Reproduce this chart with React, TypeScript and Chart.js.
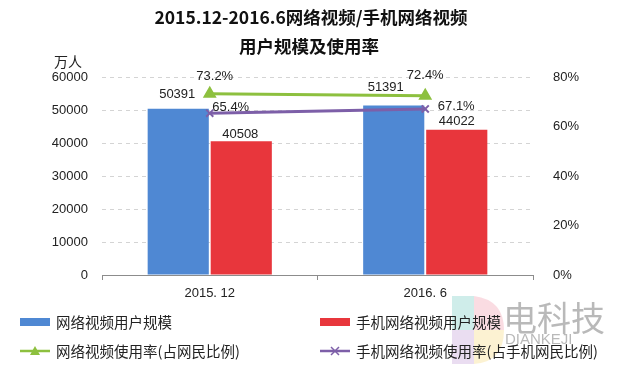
import React, { useEffect, useRef } from "react";
import { Chart, registerables } from "chart.js";

Chart.register(...registerables);

const titleLines = ["2015.12-2016.6网络视频/手机网络视频", "用户规模及使用率"];
const unitLabel = "万人";
const categories = ["2015. 12", "2016. 6"];
const videoUsers = [50391, 51391];
const mobileVideoUsers = [40508, 44022];
const videoRate = [73.2, 72.4];
const mobileVideoRate = [65.4, 67.1];
const seriesNames = [
  "网络视频用户规模",
  "手机网络视频用户规模",
  "网络视频使用率(占网民比例)",
  "手机网络视频使用率(占手机网民比例)",
];

const BLUE = "#4F88D3";
const RED = "#E8363C";
const GREEN = "#8DC03F";
const PURPLE = "#7D5FA8";

// label offsets (pixels) relative to each mark, per dataset
const labelOffsets = [
  [{ dx: -1, dy: -14 }, { dx: -8, dy: -18 }],
  [{ dx: -1, dy: -7 }, { dx: 0, dy: -8 }],
  [{ dx: 5, dy: -17 }, { dx: 0, dy: -20 }],
  [{ dx: 21, dy: -6 }, { dx: 31, dy: -3 }],
];

const overlayPlugin = {
  id: "overlay",
  afterDatasetsDraw(chart: any) {
    const ctx = chart.ctx;
    ctx.save();
    ctx.fillStyle = "#222";
    ctx.font = "13px 'Liberation Sans', Arial, sans-serif";
    ctx.textAlign = "center";
    ctx.textBaseline = "middle";
    chart.data.datasets.forEach((ds: any, di: number) => {
      const meta = chart.getDatasetMeta(di);
      meta.data.forEach((el: any, i: number) => {
        const v = ds.data[i];
        const txt = di >= 2 ? v.toFixed(1) + "%" : String(v);
        const o = labelOffsets[di][i];
        ctx.fillText(txt, el.x + o.dx, el.y + o.dy);
      });
    });
    ctx.restore();
  },
  afterDraw(chart: any) {
    const ctx = chart.ctx;
    ctx.save();
    // title
    ctx.fillStyle = "#111";
    ctx.textAlign = "center";
    ctx.textBaseline = "middle";
    ctx.font = "bold 17.5px 'Noto Sans CJK SC', 'Liberation Sans', sans-serif";
    ctx.fillText(titleLines[0], 311, 17);
    ctx.fillText(titleLines[1], 309, 46);
    // unit
    ctx.font = "14px 'Noto Sans CJK SC', sans-serif";
    ctx.fillStyle = "#222";
    ctx.fillText(unitLabel, 68, 62);

    // watermark logo
    ctx.globalAlpha = 0.3;
    const lx = 452, ly = 296;
    ctx.fillStyle = "#5fc2b8";
    ctx.fillRect(lx, ly, 22, 34);
    ctx.fillStyle = "#f08aa0";
    ctx.beginPath();
    ctx.moveTo(lx + 22, ly);
    ctx.quadraticCurveTo(lx + 52, ly + 4, lx + 52, ly + 34);
    ctx.lineTo(lx + 22, ly + 34);
    ctx.closePath();
    ctx.fill();
    ctx.fillStyle = "#b88fd0";
    ctx.fillRect(lx, ly + 34, 22, 34);
    ctx.fillStyle = "#f5d36b";
    ctx.beginPath();
    ctx.moveTo(lx + 22, ly + 34);
    ctx.lineTo(lx + 52, ly + 34);
    ctx.quadraticCurveTo(lx + 52, ly + 66, lx + 22, ly + 68);
    ctx.closePath();
    ctx.fill();
    ctx.globalAlpha = 0.55;
    ctx.fillStyle = "#808080";
    ctx.textAlign = "left";
    ctx.font = "34px 'Noto Sans CJK SC', sans-serif";
    ctx.fillText("电科技", 503, 318);
    ctx.font = "15px 'Liberation Sans', sans-serif";
    ctx.fillText("DIANKEJI", 505, 340);
    ctx.globalAlpha = 1;

    // legend
    const pos = [
      { x: 20, y: 322 },
      { x: 320, y: 322 },
      { x: 20, y: 351 },
      { x: 320, y: 351 },
    ];
    chart.data.datasets.forEach((ds: any, di: number) => {
      const p = pos[di];
      const color = ds.borderColor || ds.backgroundColor;
      if (di < 2) {
        ctx.fillStyle = ds.backgroundColor;
        ctx.fillRect(p.x, p.y - 4, 30, 8);
      } else {
        ctx.strokeStyle = color;
        ctx.lineWidth = 2.5;
        ctx.beginPath();
        ctx.moveTo(p.x, p.y);
        ctx.lineTo(p.x + 30, p.y);
        ctx.stroke();
        const cx = p.x + 15;
        if (di === 2) {
          ctx.fillStyle = color;
          ctx.beginPath();
          ctx.moveTo(cx, p.y - 5);
          ctx.lineTo(cx + 5, p.y + 4);
          ctx.lineTo(cx - 5, p.y + 4);
          ctx.closePath();
          ctx.fill();
        } else {
          ctx.lineWidth = 1.5;
          ctx.beginPath();
          ctx.moveTo(cx - 4, p.y - 4);
          ctx.lineTo(cx + 4, p.y + 4);
          ctx.moveTo(cx + 4, p.y - 4);
          ctx.lineTo(cx - 4, p.y + 4);
          ctx.stroke();
        }
      }
      ctx.fillStyle = "#222";
      ctx.textAlign = "left";
      ctx.textBaseline = "middle";
      ctx.font = "14.5px 'Noto Sans CJK SC', sans-serif";
      ctx.fillText(ds.label, p.x + 36, p.y);
    });
    ctx.restore();
  },
};

export default function App() {
  const ref = useRef<HTMLCanvasElement>(null);
  useEffect(() => {
    if (!ref.current) return;
    const chart = new Chart(ref.current, {
      type: "bar",
      data: {
        labels: categories,
        datasets: [
          {
            type: "bar",
            label: seriesNames[0],
            data: videoUsers,
            backgroundColor: BLUE,
            yAxisID: "y",
            order: 2,
            categoryPercentage: 0.585,
            barPercentage: 0.97,
          },
          {
            type: "bar",
            label: seriesNames[1],
            data: mobileVideoUsers,
            backgroundColor: RED,
            yAxisID: "y",
            order: 2,
            categoryPercentage: 0.585,
            barPercentage: 0.97,
          },
          {
            type: "line",
            label: seriesNames[2],
            data: videoRate,
            borderColor: GREEN,
            backgroundColor: GREEN,
            borderWidth: 3,
            pointStyle: "triangle",
            pointRadius: 5,
            pointBackgroundColor: GREEN,
            pointBorderColor: GREEN,
            yAxisID: "y1",
            order: 0,
          } as any,
          {
            type: "line",
            label: seriesNames[3],
            data: mobileVideoRate,
            borderColor: PURPLE,
            backgroundColor: PURPLE,
            borderWidth: 3,
            pointStyle: "crossRot",
            pointRadius: 5,
            pointBorderWidth: 2,
            pointBorderColor: PURPLE,
            yAxisID: "y1",
            order: 1,
          } as any,
        ],
      },
      options: {
        responsive: false,
        animation: false,
        devicePixelRatio: 1,
        layout: { padding: { top: 77, left: 0, right: 0, bottom: 0 } },
        plugins: {
          legend: { display: false },
          title: { display: false },
          tooltip: { enabled: false },
        },
        scales: {
          x: {
            offset: true,
            grid: {
              offset: true,
              drawOnChartArea: false,
              drawTicks: true,
              tickLength: 5,
              color: "#8c8c8c",
            },
            border: { color: "#8c8c8c", width: 1 },
            ticks: {
              color: "#222",
              font: { size: 13, family: "'Liberation Sans', Arial, sans-serif" },
              padding: 6,
            },
            afterFit: (s: any) => {
              s.height = 95;
            },
          },
          y: {
            position: "left",
            min: 0,
            max: 60000,
            ticks: {
              stepSize: 10000,
              color: "#222",
              font: { size: 13, family: "'Liberation Sans', Arial, sans-serif" },
              padding: 14,
              callback: (v: any) => String(v),
            },
            grid: {
              drawTicks: false,
              color: (c: any) => (c.tick && c.tick.value === 0 ? "rgba(0,0,0,0)" : "#d4d4d4"),
            },
            border: { display: false, dash: [4, 4] },
            afterFit: (s: any) => {
              s.width = 102;
            },
          },
          y1: {
            position: "right",
            min: 0,
            max: 80,
            ticks: {
              stepSize: 20,
              color: "#222",
              font: { size: 13, family: "'Liberation Sans', Arial, sans-serif" },
              padding: 12,
              callback: (v: any) => v + "%",
            },
            grid: { display: false, drawOnChartArea: false },
            border: { display: false },
            afterFit: (s: any) => {
              s.width = 99;
            },
          },
        },
      },
      plugins: [overlayPlugin],
    });
    return () => chart.destroy();
  }, []);
  return (
    <div style={{ position: "fixed", left: 0, top: 0, width: 632, height: 370, background: "#fff" }}>
      <canvas ref={ref} width={632} height={370} style={{ width: 632, height: 370 }} />
    </div>
  );
}
